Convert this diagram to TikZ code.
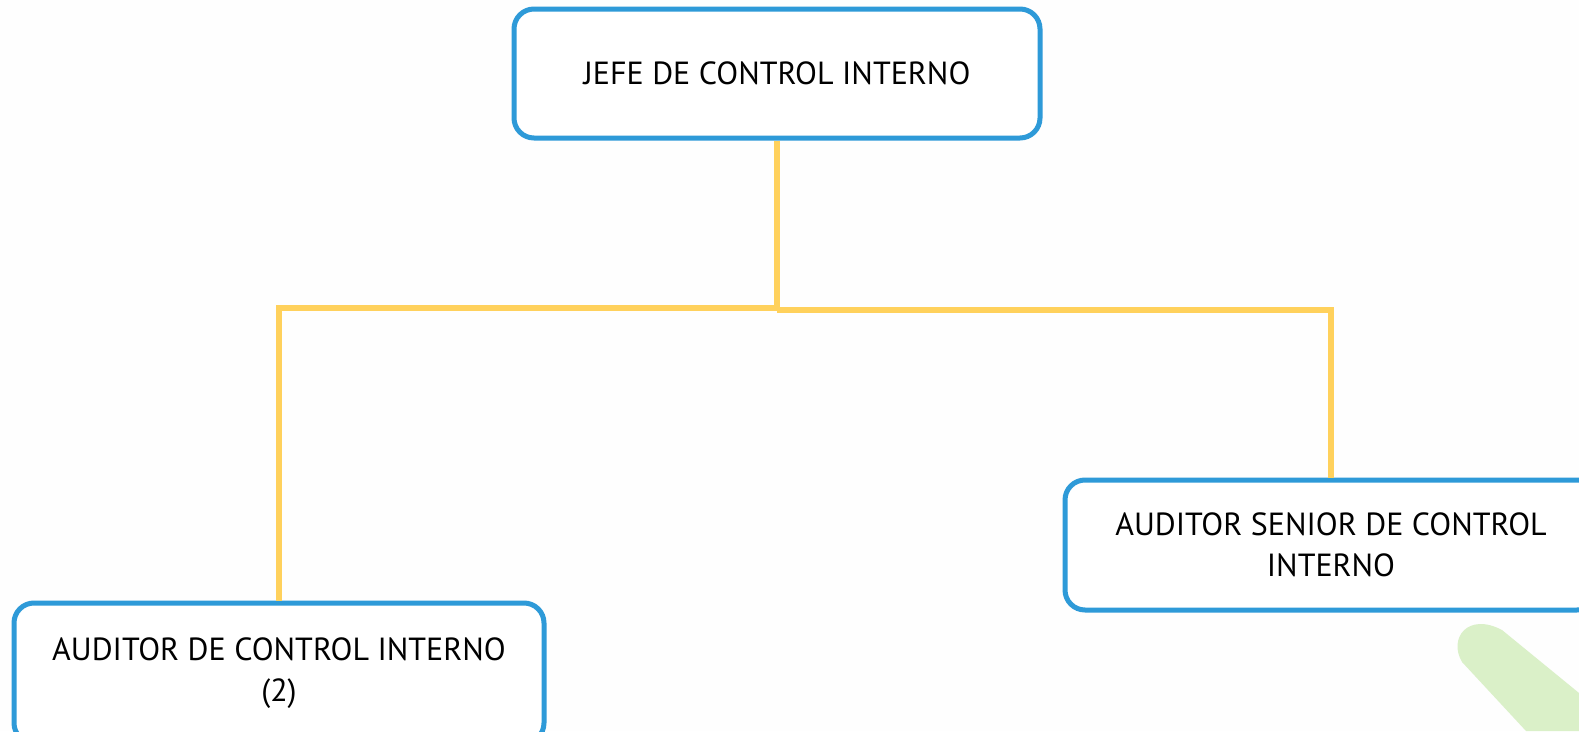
\documentclass[tikz,border=0pt]{standalone}
\usepackage{fontspec}
\setmainfont{PT Sans}
\usepackage{tikz}
\definecolor{boxblue}{HTML}{2E9AD8}
\definecolor{lineyellow}{HTML}{FFD15C}
\definecolor{leafgreen}{HTML}{DAF0C8}
\tikzset{
  cargo/.style={draw=boxblue, line width=5pt, rounded corners=20pt, fill=white,
    align=center, font=\fontsize{32}{41}\selectfont, inner sep=0pt},
  conn/.style={draw=lineyellow, line width=6pt}
}
\begin{document}
\begin{tikzpicture}[x=1pt,y=-1pt]
\useasboundingbox[fill=white!99.5!black] (0,0) rectangle (1579,731);
% hoja verde
\fill[leafgreen] (1462,662) .. controls (1448,638) and (1468,612) .. (1502,630)
  -- (1579,693) -- (1579,731) -- (1526,731) -- cycle;
% cargos
\node[cargo, minimum width=526pt, minimum height=129pt] (jefe) at (777,73.5) {JEFE DE CONTROL INTERNO};
\node[cargo, minimum width=530pt, minimum height=140pt] (auditor) at (279,673) {AUDITOR DE CONTROL INTERNO\\(2)};
\node[cargo, minimum width=532pt, minimum height=130pt] (senior) at (1331,545) {AUDITOR SENIOR DE CONTROL\\INTERNO};
% lineas
\draw[conn] (jefe.south) -- ++(0,167) coordinate (mid) -| (auditor.north);
\draw[conn] (mid) ++(0,2) -| (senior.north);
\end{tikzpicture}
\end{document}
